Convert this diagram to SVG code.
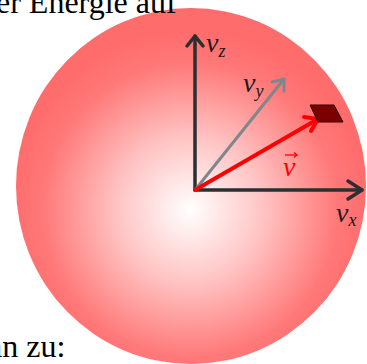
<svg xmlns="http://www.w3.org/2000/svg" width="367" height="364" viewBox="0 0 367 364">
<defs>
<radialGradient id="ball" gradientUnits="userSpaceOnUse" cx="190" cy="210" r="180" fx="190" fy="210">
<stop offset="0" stop-color="#ffffff"/>
<stop offset="0.4" stop-color="#ffc4c4"/>
<stop offset="0.82" stop-color="#ff7878"/>
<stop offset="1" stop-color="#ff6c6c"/>
</radialGradient>
</defs>
<style>
.txt{font-family:"Liberation Serif","Times New Roman",serif;font-size:32px;fill:#000}
.lbl{font-family:"Liberation Serif","Times New Roman",serif;font-style:italic;fill:#1a1a1a}
.ax{stroke:#2b2f31;stroke-width:3.5;fill:none;stroke-linecap:round;stroke-linejoin:round}
</style>
<g id="sphere">
<ellipse cx="191" cy="186" rx="175" ry="178" fill="url(#ball)"/>
</g>
<text class="txt" x="-4" y="13">er Energie auf</text>
<text class="txt" x="-12" y="357">an zu:</text>
<g id="connectors">
<g id="axis-z"><line class="ax" x1="195" y1="190" x2="195" y2="36"/><polyline class="ax" points="187,46 195,36 203,46"/></g>
<g id="axis-x"><line class="ax" x1="195" y1="190" x2="362" y2="190"/><polyline class="ax" points="348,181 362,190 348,199"/></g>
<g id="axis-y"><line stroke="#7f878c" stroke-width="3" stroke-linecap="round" x1="195" y1="190" x2="284" y2="79"/><polyline points="272,82 284,79 284,91" fill="none" stroke="#7f878c" stroke-width="3" stroke-linecap="round" stroke-linejoin="round"/></g>
<g id="vec-v"><line stroke="#ff0000" stroke-width="4" stroke-linecap="round" x1="195" y1="190" x2="318" y2="119"/><polyline points="304,117 318,119 311,131" fill="none" stroke="#ff0000" stroke-width="4" stroke-linecap="round" stroke-linejoin="round"/></g>
</g>
<g id="particle">
<polygon points="310,105 334,105 343,122 318,122" fill="#7a0000" stroke="#2a0000" stroke-width="1"/>
</g>
<g id="labels">
<text class="lbl" x="206" y="52" font-size="28">v<tspan font-size="18" dy="5">z</tspan></text>
<text class="lbl" x="243" y="92" font-size="28">v<tspan font-size="18" dy="5">y</tspan></text>
<text class="lbl" x="336" y="222" font-size="28">v<tspan font-size="18" dy="4">x</tspan></text>
<text class="lbl" x="283" y="176" font-size="28" style="fill:#ff0000">v</text>
<g stroke="#ff0000" stroke-width="1.3" fill="none"><line x1="285" y1="155" x2="297" y2="155"/><polyline points="294,152.5 297,155 294,157.5"/></g>
</g>
</svg>
